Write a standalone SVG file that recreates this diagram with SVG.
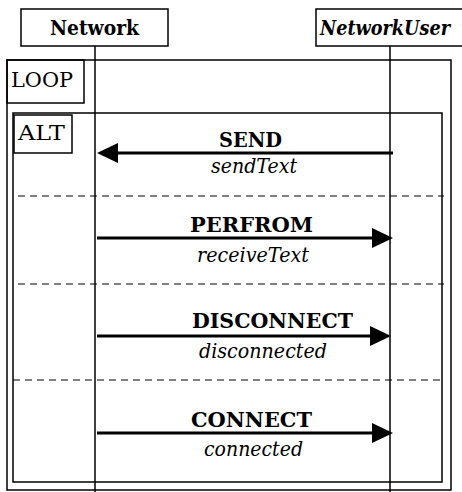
<svg xmlns="http://www.w3.org/2000/svg" width="462" height="492" viewBox="0 0 462 492">
<style>
text{font-family:'DejaVu Serif','Liberation Serif',serif;font-size:21px;fill:#000}
.b{font-weight:bold}
.i{font-style:italic}
.box{fill:#fff;stroke:#000;stroke-width:1.5}
.frame{fill:none;stroke:#000;stroke-width:1.5}
.life{stroke:#000;stroke-width:1.5}
.dash{stroke:#000;stroke-width:1.2;stroke-dasharray:7,5}
.msg{stroke:#000;stroke-width:3}
.head{fill:#000}
</style>
<g id="lifelines">
<line class="life" x1="95" y1="46" x2="95" y2="492"/>
<line class="life" x1="390" y1="46" x2="390" y2="492"/>
</g>
<g id="Network">
<rect class="box" x="21" y="9" width="147" height="37"/>
<text class="b" x="50" y="35" textLength="89" lengthAdjust="spacingAndGlyphs">Network</text>
</g>
<g id="NetworkUser">
<rect class="box" x="316" y="9" width="147" height="37"/>
<text class="b i" x="320" y="35" font-size="18" textLength="130" lengthAdjust="spacingAndGlyphs">NetworkUser</text>
</g>
<g id="loop">
<rect class="frame" x="7" y="60" width="444" height="430"/>
<rect class="frame" x="7" y="60" width="77" height="43"/>
<text x="11" y="87" textLength="62" lengthAdjust="spacingAndGlyphs">LOOP</text>
</g>
<g id="alt">
<rect class="frame" x="13" y="113" width="429" height="369"/>
<rect class="frame" x="14" y="115" width="58" height="38"/>
<text x="18" y="140" textLength="47" lengthAdjust="spacingAndGlyphs">ALT</text>
<line class="dash" x1="18" y1="196" x2="444" y2="196"/>
<line class="dash" x1="18" y1="284" x2="444" y2="284"/>
<line class="dash" x1="13" y1="380" x2="442" y2="380"/>
</g>
<g id="connectors">
<line class="msg" x1="393" y1="153" x2="115" y2="153"/>
<polygon class="head" points="97,153 118,143 118,163"/>
<line class="msg" x1="97" y1="238" x2="375" y2="238"/>
<polygon class="head" points="393,238 372,228 372,248"/>
<line class="msg" x1="97" y1="336" x2="375" y2="336"/>
<polygon class="head" points="391,336 370,326 370,346"/>
<line class="msg" x1="97" y1="433" x2="375" y2="433"/>
<polygon class="head" points="393,433 372,423 372,443"/>
</g>
<g id="labels">
<text class="b" x="219" y="147" textLength="63" lengthAdjust="spacingAndGlyphs">SEND</text>
<text class="i" x="211" y="173" textLength="86" lengthAdjust="spacingAndGlyphs">sendText</text>
<text class="b" x="190" y="232" textLength="123" lengthAdjust="spacingAndGlyphs">PERFROM</text>
<text class="i" x="197" y="262" textLength="112" lengthAdjust="spacingAndGlyphs">receiveText</text>
<text class="b" x="192" y="328" textLength="161" lengthAdjust="spacingAndGlyphs">DISCONNECT</text>
<text class="i" x="199" y="358" textLength="128" lengthAdjust="spacingAndGlyphs">disconnected</text>
<text class="b" x="191" y="427" textLength="121" lengthAdjust="spacingAndGlyphs">CONNECT</text>
<text class="i" x="204" y="456" textLength="99" lengthAdjust="spacingAndGlyphs">connected</text>
</g>
</svg>
